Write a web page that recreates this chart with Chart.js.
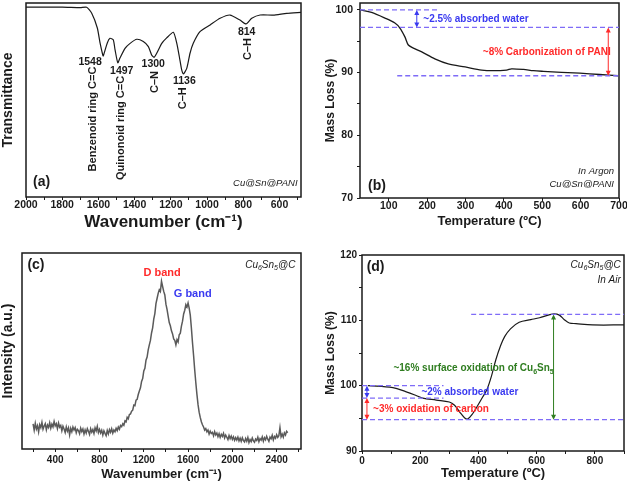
<!DOCTYPE html>
<html>
<head>
<meta charset="utf-8">
<script src="https://cdn.jsdelivr.net/npm/chart.js@4.4.1/dist/chart.umd.min.js"></script>
<style>
body { margin: 0; background: #fff; }
#wrap { position: relative; width: 627px; height: 483px; }
canvas { position: absolute; }
</style>
</head>
<body>
<div id="wrap">
  <canvas id="ftir" width="313" height="240" style="left:0;top:0"></canvas>
  <canvas id="tgaArgon" width="314" height="240" style="left:313px;top:0"></canvas>
  <canvas id="raman" width="313" height="243" style="left:0;top:240px"></canvas>
  <canvas id="tgaAir" width="314" height="243" style="left:313px;top:240px"></canvas>
</div>
<script>
// (a) FTIR of Cu@Sn@PANI
const ftirWavenumber = [2000, 1800, 1700, 1665, 1637, 1606, 1591, 1576, 1573, 1551, 1536, 1518, 1508, 1493, 1481,
  1453, 1425, 1388, 1352, 1324, 1306, 1293, 1278, 1250, 1223, 1186, 1167, 1153, 1140, 1131, 1112, 1094, 1076,
  1039, 983, 928, 873, 818, 785, 753, 707, 635, 560, 481];
const ftirTransmittance = [97.9, 97.9, 97.6, 97.8, 94.7, 87.1, 79.4, 73.2, 72.7, 79.4, 81.8, 81.0, 75.8, 69.2, 71.6,
  76.6, 79.2, 81.3, 80.1, 77.5, 73.2, 72.0, 74.1, 79.2, 82.0, 84.9, 79.2, 72.3, 65.5, 63.4, 66.3, 74.1, 79.2,
  85.2, 88.7, 92.1, 93.8, 91.2, 89.2, 92.1, 93.8, 93.8, 94.7, 95.2];
const ftirTicks = [2000, 1900, 1800, 1700, 1600, 1500, 1400, 1300, 1200, 1100, 1000, 900, 800, 700, 600, 500];
const ftirLabels = [2000, 1800, 1600, 1400, 1200, 1000, 800, 600];

// (b) TGA in argon
const argonTemp = [25, 55, 90, 116, 129, 142, 151, 164, 186, 220, 255, 299, 342, 372, 407, 420, 451, 477, 503, 598, 650, 698];
const argonMass = [100, 99.6, 98.7, 97.9, 97.1, 95.7, 94.4, 93.9, 93.3, 92.2, 91.4, 90.9, 90.4, 90.3, 90.4, 90.6, 90.5, 90.3, 90.2, 89.9, 89.7, 89.5];
const argonXTicks = [100, 200, 300, 400, 500, 600, 700];
const argonYTicks = [70, 75, 80, 85, 90, 95, 100];
const argonYLabels = [70, 80, 90, 100];

// (c) Raman of Cu6Sn5@C
const ramanShift = [
  200, 210, 220, 230, 240, 250, 260, 270, 280, 290, 300, 310, 320, 330, 340, 350, 360, 370, 380, 390,
  400, 410, 420, 430, 440, 450, 460, 470, 480, 490, 500, 510, 520, 530, 540, 550, 560, 570, 580, 590,
  600, 610, 620, 630, 640, 650, 660, 670, 680, 690, 700, 710, 720, 730, 740, 750, 760, 770, 780, 790,
  800, 810, 820, 830, 840, 850, 860, 870, 880, 890, 900, 910, 920, 930, 940, 950, 960, 970, 980, 990,
  1000, 1010, 1020, 1030, 1040, 1050, 1060, 1070, 1080, 1090, 1100, 1110, 1120, 1130, 1140, 1150, 1160, 1170, 1180, 1190,
  1200, 1210, 1220, 1230, 1240, 1250, 1260, 1270, 1280, 1290, 1300, 1310, 1320, 1330, 1340, 1350, 1360, 1370, 1380, 1390,
  1400, 1410, 1420, 1430, 1440, 1450, 1460, 1470, 1480, 1490, 1500, 1510, 1520, 1530, 1540, 1550, 1560, 1570, 1580, 1590,
  1600, 1610, 1620, 1630, 1640, 1650, 1660, 1670, 1680, 1690, 1700, 1710, 1720, 1730, 1740, 1750, 1760, 1770, 1780, 1790,
  1800, 1810, 1820, 1830, 1840, 1850, 1860, 1870, 1880, 1890, 1900, 1910, 1920, 1930, 1940, 1950, 1960, 1970, 1980, 1990,
  2000, 2010, 2020, 2030, 2040, 2050, 2060, 2070, 2080, 2090, 2100, 2110, 2120, 2130, 2140, 2150, 2160, 2170, 2180, 2190,
  2200, 2210, 2220, 2230, 2240, 2250, 2260, 2270, 2280, 2290, 2300, 2310, 2320, 2330, 2340, 2350, 2360, 2370, 2380, 2390,
  2400, 2410, 2420, 2430, 2440, 2450, 2460, 2470, 2480, 2490, 2500];
const ramanIntensity = [
  12.8, 9.6, 13.1, 10.2, 11.9, 8.7, 12.4, 10.9, 13.6, 10.1, 11.7, 12.9, 9.8, 12.2, 11.0, 13.4, 10.6, 12.7, 11.3, 14.1,
  11.8, 12.9, 10.4, 13.2, 11.1, 12.0, 9.3, 11.6, 10.2, 8.4, 11.3, 9.1, 10.8, 7.2, 10.5, 8.8, 11.2, 9.7, 10.9, 8.3,
  10.1, 9.4, 7.8, 10.6, 8.9, 10.2, 7.6, 9.8, 8.1, 10.4, 9.0, 7.4, 10.3, 8.6, 9.9, 7.9, 10.8, 9.2, 11.5, 8.4,
  10.0, 8.2, 9.6, 7.1, 9.3, 8.0, 6.8, 9.5, 7.7, 9.9, 8.5, 10.3, 8.1, 9.7, 8.8, 10.6, 9.4, 11.2, 10.1, 12.0,
  11.4, 12.9, 12.1, 14.3, 13.8, 16.2, 15.4, 17.6, 17.9, 19.3, 19.8, 22.4, 22.1, 24.9, 25.3, 27.8, 29.6, 31.2, 34.5, 35.9,
  39.8, 41.2, 45.3, 46.9, 50.6, 53.1, 55.4, 59.2, 61.8, 66.3, 69.1, 74.2, 76.8, 79.4, 81.2, 80.3, 85.6, 82.9, 80.4, 78.6,
  73.9, 71.2, 67.8, 64.5, 62.9, 60.3, 58.7, 56.2, 55.4, 53.1, 55.8, 54.6, 58.3, 59.1, 62.7, 65.2, 68.9, 70.8, 73.6, 72.4,
  74.5, 71.9, 68.3, 61.7, 54.2, 47.6, 40.3, 33.8, 27.9, 22.6, 18.8, 16.1, 13.9, 12.4, 11.2, 9.6, 10.4, 8.8, 9.7, 7.6,
  9.1, 7.9, 8.5, 6.7, 8.9, 7.2, 8.1, 6.3, 7.8, 5.9, 7.5, 6.4, 8.0, 5.6, 7.1, 6.0, 4.8, 6.9, 5.3, 6.6,
  4.9, 6.2, 4.4, 5.8, 4.6, 6.1, 4.1, 5.5, 3.9, 5.7, 4.3, 3.6, 5.4, 4.0, 5.9, 3.3, 4.8, 3.8, 5.6, 4.2,
  3.5, 5.1, 4.4, 6.0, 3.7, 5.3, 4.5, 6.2, 4.0, 5.8, 4.7, 6.5, 5.0, 3.9, 6.1, 5.2, 7.0, 4.6, 6.4, 5.5,
  7.3, 5.9, 6.8, 10.9, 6.2, 7.6, 6.0, 8.2, 7.1, 9.0, 8.3];
const ramanTicks = [200, 400, 600, 800, 1000, 1200, 1400, 1600, 1800, 2000, 2200, 2400, 2600];
const ramanLabels = [400, 800, 1200, 1600, 2000, 2400];

// (d) TGA in air
const airTemp = [20, 106, 152, 186, 209, 255, 300, 318, 335, 352, 363, 380, 398, 415, 430, 445, 460, 475, 490, 510, 540, 580, 610, 640, 660, 678, 695, 712, 735, 792, 900];
const airMass = [100.0, 99.7, 99.05, 98.5, 98.1, 97.8, 97.5, 97.0, 96.0, 95.1, 94.9, 95.7, 97.0, 98.3, 99.5, 101.5, 104.0, 106.0, 107.5, 108.7, 109.7, 110.1, 110.4, 110.8, 111.0, 110.8, 110.1, 109.6, 109.5, 109.3, 109.3];
const airXTicks = [0, 100, 200, 300, 400, 500, 600, 700, 800, 900];
const airXLabels = [0, 200, 400, 600, 800];
const airYTicks = [90, 95, 100, 105, 110, 115, 120];
const airYLabels = [90, 100, 110, 120];

const FAMILY = "'Liberation Sans', Arial, sans-serif";
Chart.defaults.font.family = FAMILY;
Chart.defaults.color = '#1a1a1a';

const DASH = '#7f6cf7';
const BLUE = '#3a3af0';
const RED = '#ff2a2a';
const GREEN = '#2f7d20';
const CU6SN5 = [['Cu'], ['6', 1], ['Sn'], ['5', 1], ['@C']];

function drawRich(ctx, parts, x, y, size, style, align) {
  const big = style + ' ' + size + 'px ' + FAMILY;
  const small = style + ' ' + Math.round(size * 0.65) + 'px ' + FAMILY;
  let w = 0;
  parts.forEach(p => { ctx.font = p[1] ? small : big; w += ctx.measureText(p[0]).width; });
  let cx = align === 'right' ? x - w : align === 'center' ? x - w / 2 : x;
  ctx.textAlign = 'left';
  ctx.textBaseline = 'middle';
  parts.forEach(p => {
    ctx.font = p[1] ? small : big;
    ctx.fillText(p[0], cx, p[1] ? y + size * 0.3 : y);
    cx += ctx.measureText(p[0]).width;
  });
}

// frame, dashed guides, double arrows and notes, placed with the chart scales
const notes = {
  id: 'notes',
  afterDatasetsDraw(chart, args, opts) {
    const {ctx, chartArea: a, scales: {x, y}} = chart;
    ctx.save();
    ctx.strokeStyle = '#1a1a1a';
    ctx.lineWidth = 1.5;
    ctx.strokeRect(a.left, a.top, a.width, a.height);

    ctx.setLineDash([5, 3]);
    ctx.lineWidth = 1.3;
    ctx.strokeStyle = DASH;
    (opts.dashes || []).forEach(d => {
      ctx.beginPath();
      ctx.moveTo(x.getPixelForValue(d.x1), y.getPixelForValue(d.y));
      ctx.lineTo(x.getPixelForValue(d.x2), y.getPixelForValue(d.y));
      ctx.stroke();
    });
    ctx.setLineDash([]);

    (opts.arrows || []).forEach(d => {
      const px = x.getPixelForValue(d.x);
      const ya = Math.min(y.getPixelForValue(d.y1), y.getPixelForValue(d.y2));
      const yb = Math.max(y.getPixelForValue(d.y1), y.getPixelForValue(d.y2));
      ctx.strokeStyle = d.color;
      ctx.fillStyle = d.color;
      ctx.lineWidth = 1;
      ctx.beginPath();
      ctx.moveTo(px, ya + 2);
      ctx.lineTo(px, yb - 2);
      ctx.stroke();
      ctx.beginPath();
      ctx.moveTo(px, ya); ctx.lineTo(px - 2.5, ya + 5); ctx.lineTo(px + 2.5, ya + 5);
      ctx.closePath();
      ctx.moveTo(px, yb); ctx.lineTo(px - 2.5, yb - 5); ctx.lineTo(px + 2.5, yb - 5);
      ctx.closePath();
      ctx.fill();
    });

    (opts.texts || []).forEach(t => {
      const px = x.getPixelForValue(t.x);
      const py = y.getPixelForValue(t.y);
      ctx.fillStyle = t.color || '#1a1a1a';
      const parts = t.parts || [[t.text]];
      if (t.rot) {
        ctx.save();
        ctx.translate(px, py);
        ctx.rotate(-Math.PI / 2);
        drawRich(ctx, parts, 0, 0, t.size, t.style || 'bold', 'center');
        ctx.restore();
      } else {
        drawRich(ctx, parts, px, py, t.size, t.style || 'bold', t.align || 'left');
      }
    });
    ctx.restore();
  }
};

function sized(prop, size) {
  return s => {
    s[prop] = size;
    s.paddingLeft = s.paddingRight = s.paddingTop = s.paddingBottom = 0;
  };
}

function tickSet(values) {
  return s => { s.ticks = values.map(v => ({value: v})); };
}

function axis(o) {
  return {
    type: 'linear',
    position: o.position,
    min: o.min,
    max: o.max,
    reverse: !!o.reverse,
    border: {display: false},
    grid: {display: !!o.ticks, drawOnChartArea: false, drawTicks: true, tickLength: 3, color: '#1a1a1a'},
    afterBuildTicks: o.ticks ? tickSet(o.ticks) : undefined,
    afterFit: sized(o.position === 'left' ? 'width' : 'height', o.size),
    ticks: {
      display: !!o.ticks,
      autoSkip: false,
      maxRotation: 0,
      padding: o.tickPad,
      font: {size: o.tickFont || 10.5, weight: 'bold'},
      callback: v => (o.labels || []).includes(v) ? v : ''
    },
    title: {
      display: true,
      text: o.title,
      font: {size: o.titleFont, weight: 'bold'},
      padding: o.position === 'left' ? {top: o.titlePad, bottom: 0} : {top: 0, bottom: o.titlePad}
    }
  };
}

function panel(id, points, color, width, tension, padding, xAxis, yAxis, noteOpts) {
  return new Chart(document.getElementById(id), {
    type: 'line',
    data: {
      datasets: [{
        data: points,
        borderColor: color,
        borderWidth: width,
        pointRadius: 0,
        tension: tension,
        fill: false
      }]
    },
    options: {
      responsive: false,
      animation: false,
      layout: {padding: padding},
      plugins: {legend: {display: false}, tooltip: {enabled: false}, notes: noteOpts},
      scales: {x: xAxis, y: yAxis}
    },
    plugins: [notes]
  });
}

const pairs = (xs, ys) => xs.map((v, i) => ({x: v, y: ys[i]}));

panel('ftir', pairs(ftirWavenumber, ftirTransmittance), '#1a1a1a', 1.2, 0.2,
  {left: 0, top: 3, right: 12, bottom: 0},
  axis({position: 'bottom', min: 481, max: 2000, reverse: true, ticks: ftirTicks, labels: ftirLabels,
    size: 43, tickPad: -1, title: 'Wavenumber (cm⁻¹)', titleFont: 17, titlePad: 7}),
  axis({position: 'left', min: 0, max: 100, size: 26, title: 'Transmittance', titleFont: 14, titlePad: 0}),
  {
    texts: [
      {x: 1646, y: 69.6, text: '1548', size: 10.5, align: 'center'},
      {x: 1630, y: 40.2, text: 'Benzenoid ring C=C', size: 11, rot: true},
      {x: 1471, y: 64.9, text: '1497', size: 10.5, align: 'center'},
      {x: 1477, y: 35.6, text: 'Quinonoid ring C=C', size: 11, rot: true},
      {x: 1297, y: 68.6, text: '1300', size: 10.5, align: 'center'},
      {x: 1287, y: 59.3, text: 'C–N', size: 11, rot: true},
      {x: 1125, y: 59.8, text: '1136', size: 10.5, align: 'center'},
      {x: 1131, y: 50.9, text: 'C–H', size: 11, rot: true},
      {x: 781, y: 84.9, text: '814', size: 10.5, align: 'center'},
      {x: 775, y: 76.3, text: 'C–H', size: 11, rot: true},
      {x: 1961, y: 7.5, text: '(a)', size: 14},
      {x: 500, y: 7.2, text: 'Cu@Sn@PANI', size: 9.5, style: 'italic', align: 'right'}
    ]
  });

panel('tgaArgon', pairs(argonTemp, argonMass), '#1a1a1a', 1.3, 0.3,
  {left: 0, top: 3, right: 8, bottom: 0},
  axis({position: 'bottom', min: 25, max: 700, ticks: argonXTicks, labels: argonXTicks,
    size: 42, tickPad: -1, title: 'Temperature (ºC)', titleFont: 13, titlePad: 11}),
  axis({position: 'left', min: 70, max: 101.1, ticks: argonYTicks, labels: argonYLabels,
    size: 47, tickPad: 4, title: 'Mass Loss (%)', titleFont: 12, titlePad: 10}),
  {
    dashes: [{x1: 25, x2: 230, y: 100}, {x1: 25, x2: 700, y: 97.2}, {x1: 122, x2: 700, y: 89.5}],
    arrows: [{x: 173, y1: 100, y2: 97.2, color: BLUE}, {x: 672, y1: 97.2, y2: 89.5, color: RED}],
    texts: [
      {x: 190, y: 98.5, text: '~2.5% absorbed water', size: 10, color: BLUE},
      {x: 345, y: 93.3, text: '~8% Carbonization of PANI', size: 10, color: RED},
      {x: 46, y: 71.9, text: '(b)', size: 14},
      {x: 687, y: 74.2, text: 'In Argon', size: 9.5, style: 'italic', align: 'right'},
      {x: 687, y: 72.1, text: 'Cu@Sn@PANI', size: 9.5, style: 'italic', align: 'right'}
    ]
  });

panel('raman', pairs(ramanShift, ramanIntensity), '#5a5a5a', 1.5, 0,
  {left: 0, top: 13, right: 12, bottom: 0},
  axis({position: 'bottom', min: 100, max: 2620, ticks: ramanTicks, labels: ramanLabels,
    size: 34, tickPad: 2, tickFont: 10, title: 'Wavenumber (cm⁻¹)', titleFont: 13, titlePad: 1}),
  axis({position: 'left', min: 0, max: 100, size: 22, title: 'Intensity (a.u.)', titleFont: 14, titlePad: 0}),
  {
    texts: [
      {x: 149, y: 93.7, text: '(c)', size: 14},
      {x: 2569, y: 93.7, parts: CU6SN5, size: 10, style: 'italic', align: 'right'},
      {x: 1366, y: 90.0, text: 'D band', size: 11, color: RED, align: 'center'},
      {x: 1642, y: 79.0, text: 'G band', size: 11, color: BLUE, align: 'center'}
    ]
  });

panel('tgaAir', pairs(airTemp, airMass), '#1a1a1a', 1.2, 0.35,
  {left: 0, top: 15, right: 3, bottom: 0},
  axis({position: 'bottom', min: 0, max: 900, ticks: airXTicks, labels: airXLabels,
    size: 32, tickPad: 1, tickFont: 10, title: 'Temperature (ºC)', titleFont: 13, titlePad: 2}),
  axis({position: 'left', min: 90, max: 120, ticks: airYTicks, labels: airYLabels,
    size: 49, tickPad: 2, tickFont: 10, title: 'Mass Loss (%)', titleFont: 12, titlePad: 10}),
  {
    dashes: [{x1: 0, x2: 280, y: 100}, {x1: 0, x2: 280, y: 98.1}, {x1: 0, x2: 900, y: 94.8}, {x1: 375, x2: 900, y: 110.9}],
    arrows: [
      {x: 17, y1: 100, y2: 98.1, color: BLUE},
      {x: 17, y1: 98.1, y2: 94.8, color: RED},
      {x: 658, y1: 110.9, y2: 94.8, color: GREEN}
    ],
    texts: [
      {x: 16, y: 118.2, text: '(d)', size: 14},
      {x: 889, y: 118.5, parts: CU6SN5, size: 10, style: 'italic', align: 'right'},
      {x: 889, y: 116.2, text: 'In Air', size: 10, style: 'italic', align: 'right'},
      {x: 204, y: 99.0, text: '~2% absorbed water', size: 10, color: BLUE},
      {x: 38, y: 96.4, text: '~3% oxidation of carbon', size: 10, color: RED},
      {x: 108, y: 102.6, parts: [['~16% surface oxidation of Cu'], ['6', 1], ['Sn'], ['5', 1]], size: 10, color: GREEN}
    ]
  });
</script>
</body>
</html>
